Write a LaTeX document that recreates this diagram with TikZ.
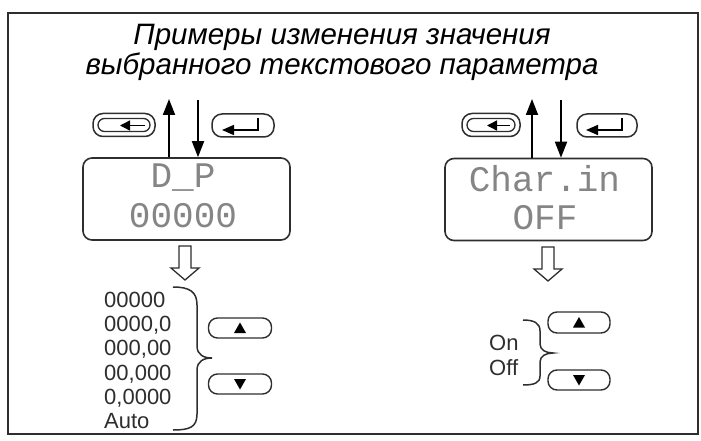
\documentclass[tikz,border=0pt]{standalone}
\usepackage{fontspec}
\setmainfont{Liberation Sans}
\newfontfamily\lcdfont{Liberation Mono}
\usetikzlibrary{arrows.meta,calc}
\definecolor{ink}{gray}{0.18}
\tikzset{
  display/.style={draw=ink, line width=1.6pt, rounded corners=9pt, minimum width=207pt, minimum height=82pt, inner sep=0pt},
  lcd/.style={text=black!48, font=\lcdfont\fontsize{36}{36}\selectfont, inner sep=0pt},
  pill/.style={draw=ink, line width=1.5pt, rounded corners=10pt, minimum width=62pt, minimum height=23pt, inner sep=0pt},
  smallpill/.style={draw=ink, line width=1.4pt, rounded corners=9pt, minimum width=63pt, minimum height=20pt, inner sep=0pt},
  navarrow/.style={draw=black, line width=1.8pt, -{Triangle[length=16pt,width=12pt]}},
  hollow/.style={draw=ink, line width=1.3pt, fill=white, line join=miter},
  brace/.style={draw=ink, line width=1.5pt},
  listtext/.style={text=ink, font=\fontsize{22}{24.2}\selectfont, align=left, inner sep=0pt},
  frame/.style={draw=ink, line width=2pt},
}
\begin{document}
\begin{tikzpicture}[x=1pt,y=-1pt]
\useasboundingbox (0,0) rectangle (701,441);
\draw[frame] (8,13) rectangle (698,434);

% title
\node[align=center, font=\itshape\fontsize{29.5}{30}\selectfont, inner sep=0pt] (title) at (342,52)
  {Примеры изменения значения\\выбранного текстового параметра};

% ---------- left column ----------
\node[display] (dL) at (186.5,199) {};
\node[lcd, anchor=base] (dL1) at (183,187) {D\_P};
\node[lcd, anchor=base] (dL2) at (183,227) {00000};

\coordinate (upLend) at (169,99);
\coordinate (dnLstart) at (198,100);
\draw[navarrow] (dL.north -| upLend) -- (upLend);
\draw[navarrow] (dnLstart) -- (dL.north -| dnLstart);

\node[pill] (escL) at (124,125) {};
\node[pill] (entL) at (243,125.5) {};
% escape icon
\draw[ink, line width=1.3pt, rounded corners=6.5pt] ($(escL)+(-26,-6.5)$) rectangle ($(escL)+(26,6.5)$);
\draw[black, line width=1.4pt, -{Triangle[length=10pt,width=10pt]}] ($(escL)+(21,0.5)$) -- ($(escL)+(-4,0.5)$);
% enter icon
\draw[black, line width=1.6pt, -{Triangle[length=12pt,width=10pt]}] ($(entL)+(15,-7.5)$) -- ($(entL)+(15,4.5)$) -- ($(entL)+(-21,4.5)$);

% hollow arrow
\coordinate (hL) at (185,246);
\draw[hollow] ($(hL)+(-6,0)$) -- ($(hL)+(-6,22)$) -- ($(hL)+(-14,22)$) -- ($(hL)+(0,34)$) -- ($(hL)+(14,22)$) -- ($(hL)+(6,22)$) -- ($(hL)+(6,0)$) -- cycle;

% list
\node[listtext, anchor=west] (listL) at (104,360.5)
  {00000\\0000,0\\000,00\\00,000\\0,0000\\Auto};
\draw[brace] (173,287) .. controls (190,287) and (197,292) .. (197,305) -- (197,346)
  .. controls (197,355) and (204,358) .. (212,358)
  .. controls (204,358) and (197,361) .. (197,370) -- (197,414)
  .. controls (197,427) and (190,430) .. (173,430);

\node[smallpill] (upL) at (240,328) {};
\node[smallpill] (dnL) at (240,384) {};
\fill[black] ($(upL)+(0,-5.5)$) -- ($(upL)+(6,5)$) -- ($(upL)+(-6,5)$) -- cycle;
\fill[black] ($(dnL)+(0,5.5)$) -- ($(dnL)+(6,-5)$) -- ($(dnL)+(-6,-5)$) -- cycle;

% ---------- right column ----------
\node[display] (dR) at (548.5,199.5) {};
\node[lcd, anchor=base] (dR1) at (544.5,191) {Char.in};
\node[lcd, anchor=base] (dR2) at (545,229) {OFF};

\coordinate (upRend) at (532,99);
\coordinate (dnRstart) at (561,100);
\draw[navarrow] (dR.north -| upRend) -- (upRend);
\draw[navarrow] (dnRstart) -- (dR.north -| dnRstart);

\node[pill, minimum width=58pt] (escR) at (491,125) {};
\node[pill, minimum width=60pt] (entR) at (607,125.5) {};
\draw[ink, line width=1.3pt, rounded corners=6.5pt] ($(escR)+(-24,-6.5)$) rectangle ($(escR)+(24,6.5)$);
\draw[black, line width=1.4pt, -{Triangle[length=10pt,width=10pt]}] ($(escR)+(19,0.5)$) -- ($(escR)+(-4,0.5)$);
\draw[black, line width=1.6pt, -{Triangle[length=12pt,width=10pt]}] ($(entR)+(15,-7.5)$) -- ($(entR)+(15,4.5)$) -- ($(entR)+(-21,4.5)$);

\coordinate (hR) at (548,247);
\draw[hollow] ($(hR)+(-6,0)$) -- ($(hR)+(-6,22)$) -- ($(hR)+(-14,22)$) -- ($(hR)+(0,34)$) -- ($(hR)+(14,22)$) -- ($(hR)+(6,22)$) -- ($(hR)+(6,0)$) -- cycle;

\node[listtext, anchor=west] (listR) at (489,355.5) {On\\Off};
\draw[brace] (523,320) .. controls (534,320) and (540,323) .. (540,331) -- (540,344)
  .. controls (540,350) and (546,353) .. (553,353)
  .. controls (546,353) and (540,356) .. (540,362) -- (540,376)
  .. controls (540,383) and (534,385) .. (523,385);

\node[smallpill, minimum width=62pt, minimum height=21pt] (upR) at (579,322.5) {};
\node[smallpill, minimum width=62pt] (dnR) at (579,380) {};
\fill[black] ($(upR)+(0,-5.5)$) -- ($(upR)+(6,5)$) -- ($(upR)+(-6,5)$) -- cycle;
\fill[black] ($(dnR)+(0,5.5)$) -- ($(dnR)+(6,-5)$) -- ($(dnR)+(-6,-5)$) -- cycle;
\end{tikzpicture}
\end{document}
